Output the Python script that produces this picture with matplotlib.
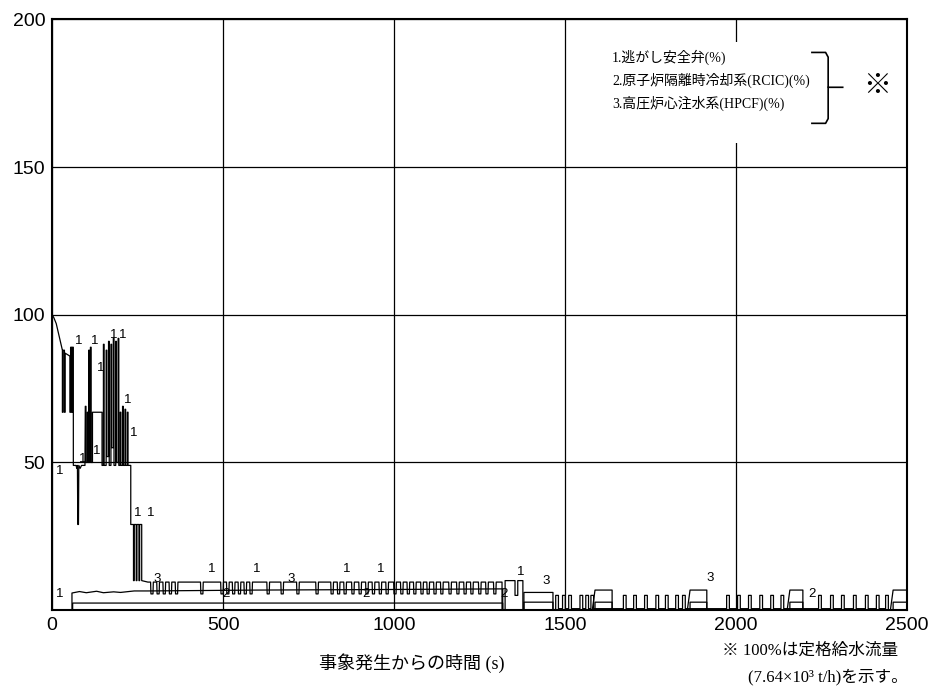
import matplotlib
matplotlib.use("Agg")
import matplotlib.pyplot as plt

# 1. SRV - early transient (time s, %)
srv_t = [0, 0, 5, 12, 20, 28, 30, 30, 32, 32, 36, 36, 38, 38, 52, 52, 54, 54, 57, 57, 59, 59, 62, 62,
         70, 72, 74, 75, 77, 78, 82, 86, 96, 97, 99, 99, 103, 103, 105, 105, 107, 107, 109, 109, 112, 112,
         114, 114, 118, 118, 146, 146, 150, 150, 152, 152, 158, 158, 160, 160, 165, 165, 167, 167,
         172, 172, 174, 174, 179, 179, 181, 181, 186, 186, 188, 188, 193, 193, 195, 195, 199, 199,
         201, 201, 206, 206, 208, 208, 213, 213, 215, 215, 220, 220, 222, 222, 230, 230, 238, 238,
         240, 240, 246, 246, 248, 248, 254, 254, 256, 256, 262, 262, 280]
srv_v = [0, 100, 99, 97, 93, 89, 88, 67, 67, 88, 88, 67, 67, 87, 86, 67, 67, 89, 89, 67, 67, 89, 89, 49,
         49, 48, 49, 29, 29, 49, 48, 49, 49, 69, 69, 50, 50, 67, 67, 50, 50, 88, 88, 50, 50, 89,
         89, 50, 50, 67, 67, 49, 49, 90, 90, 49, 49, 88, 88, 52, 52, 91, 91, 49,
         49, 90, 90, 55, 55, 92, 92, 49, 49, 91, 91, 50, 50, 92, 92, 49, 49, 67,
         67, 49, 49, 69, 69, 49, 49, 68, 68, 49, 49, 67, 67, 49, 49, 29, 29, 10,
         10, 29, 29, 10, 10, 29, 29, 10, 10, 29, 29, 10, 9.5]
# SRV cycling: dips from ~9.5 % down to ~5.5 %
srv_dips = [292, 310, 328, 346, 364, 438, 497, 514, 531, 548, 565, 582, 632, 673, 719, 775, 819, 838,
            857, 880, 901, 921, 940, 960, 980, 1003, 1023, 1042, 1061, 1082, 1100, 1120, 1140, 1164, 1187,
            1208, 1228, 1251, 1272, 1295]
srv_mid_t = [1316, 1316, 1325, 1325, 1354, 1354, 1362, 1362, 1377, 1377, 1470]
srv_mid_v = [9.5, 0, 0, 10, 10, 5, 5, 10, 10, 0, 0]
# later short SRV pulses (0 -> ~5 %)
srv_pulses = [1477, 1497, 1515, 1548, 1565, 1580, 1675, 1705, 1737, 1770, 1798, 1828, 1848,
              1977, 2009, 2041, 2074, 2106, 2136, 2246, 2281, 2313, 2348, 2383, 2415, 2442]

# 2. RCIC
rcic_t = [0, 58, 58, 80, 100, 130, 150, 180, 200, 240, 280, 600, 1000, 1318, 1318]
rcic_v = [0, 0, 5.8, 6.3, 5.9, 6.4, 5.9, 6.2, 6.0, 6.5, 6.5, 6.8, 7.0, 7.2, 0]
# 3. HPCF
hpcf_t = [0, 60, 60, 1318, 1318]
hpcf_v = [0, 0, 2.4, 2.4, 0]
hpcf_step = (1380, 1465)
box_windows = [(1588, 1638), (1866, 1915), (2158, 2196), (2460, 2500)]

# curve number labels
lab_txt = ["1", "1", "1", "1", "1", "1", "1", "1", "1", "1", "1", "1", "1", "1", "1", "1",
           "2", "2", "2", "3", "3", "3", "3", "2", "1", "1"]
lab_t = [12, 67, 114, 132, 170, 196, 210, 228, 240, 278, 120, 79, 456, 588, 851, 950,
         497, 906, 1312, 295, 687, 1433, 1915, 2211, 1360, 12]
lab_v = [45, 89, 89, 80, 91, 91, 69, 58, 31, 31, 52, 49, 12, 12, 12, 12,
         3.5, 3.5, 3.5, 8.5, 8.5, 8, 9, 3.4, 11, 3.4]

ticks_x = [0, 500, 1000, 1500, 2000, 2500]
ticks_y = [50, 100, 150, 200]
legend_lines = ["1.逃がし安全弁(%)", "2.原子炉隔離時冷却系(RCIC)(%)", "3.高圧炉心注水系(HPCF)(%)"]

JP = ["Liberation Serif", "Noto Sans CJK JP"]

# assemble SRV series
t1, v1 = list(srv_t), list(srv_v)
for d in srv_dips:
    t1 += [d - 4, d - 3, d + 3, d + 4]
    v1 += [9.5, 5.5, 5.5, 9.5]
t1 += srv_mid_t
v1 += srv_mid_v
for p in srv_pulses:
    t1 += [p - 4, p - 4, p + 4, p + 4]
    v1 += [0.5, 5, 5, 0.5]

# assemble RCIC / HPCF incl. later boxes
t2, v2 = list(rcic_t), list(rcic_v)
t3, v3 = list(hpcf_t), list(hpcf_v)
t2 += [hpcf_step[0], hpcf_step[0], hpcf_step[1], hpcf_step[1]]
v2 += [0, 2.7, 2.7, 0]
t3 += [hpcf_step[0], hpcf_step[0], hpcf_step[1], hpcf_step[1]]
v3 += [0, 6, 6, 0]
for a, b in box_windows:
    t2 += [a, a, b, b]
    v2 += [0, 2.7, 2.7, 0]
    t3 += [a - 8, a, b, b]
    v3 += [0, 6.8, 6.8, 0]

fig = plt.figure(figsize=(9.31, 6.91), dpi=100)
ax = fig.add_axes([0.056, 0.117, 0.918, 0.855])

ax.plot(t1, v1, color="black", lw=0.9)
ax.plot(t2, v2, color="black", lw=0.9)
ax.plot(t3, v3, color="black", lw=0.9)

for s, t, v in zip(lab_txt, lab_t, lab_v):
    ax.text(t, v, s, fontsize=9.5, family="Liberation Sans", ha="left", va="bottom")

ax.set_xlim(0, 2500)
ax.set_ylim(0, 200)
ax.set_xticks(ticks_x)
ax.set_yticks(ticks_y)
ax.tick_params(length=0, labelsize=14, pad=5)
for lbl in ax.get_xticklabels() + ax.get_yticklabels():
    lbl.set_family("Liberation Sans")
ax.grid(True, color="black", lw=0.9)
for sp in ax.spines.values():
    sp.set_linewidth(1.5)

# legend block (white patch hides the grid behind it)
ax.add_patch(plt.Rectangle((0.645, 0.79), 0.345, 0.172, transform=ax.transAxes,
                           facecolor="white", edgecolor="none", zorder=3))
for i, s in enumerate(legend_lines):
    ax.text(0.655, 0.936 - i * 0.039, s, transform=ax.transAxes, family=JP,
            fontsize=10, va="center", zorder=4)
ax.plot([0.889, 0.905, 0.908, 0.908, 0.925], [0.944, 0.944, 0.936, 0.885, 0.885],
        transform=ax.transAxes, color="black", lw=1.2, zorder=4)
ax.plot([0.908, 0.908, 0.905, 0.889], [0.885, 0.832, 0.824, 0.824],
        transform=ax.transAxes, color="black", lw=1.2, zorder=4)
ax.text(0.965, 0.885, "※", transform=ax.transAxes, family=JP, fontsize=20,
        ha="center", va="center", zorder=4)

fig.text(0.442, 0.04, "事象発生からの時間 (s)", family=JP, fontsize=13, ha="center", va="center")
fig.text(0.775, 0.059, "※ 100%は定格給水流量", family=JP, fontsize=12, ha="left", va="center")
fig.text(0.803, 0.02, "(7.64×10³ t/h)を示す。", family=JP, fontsize=12, ha="left", va="center")

fig.savefig("out.png", dpi=100)
